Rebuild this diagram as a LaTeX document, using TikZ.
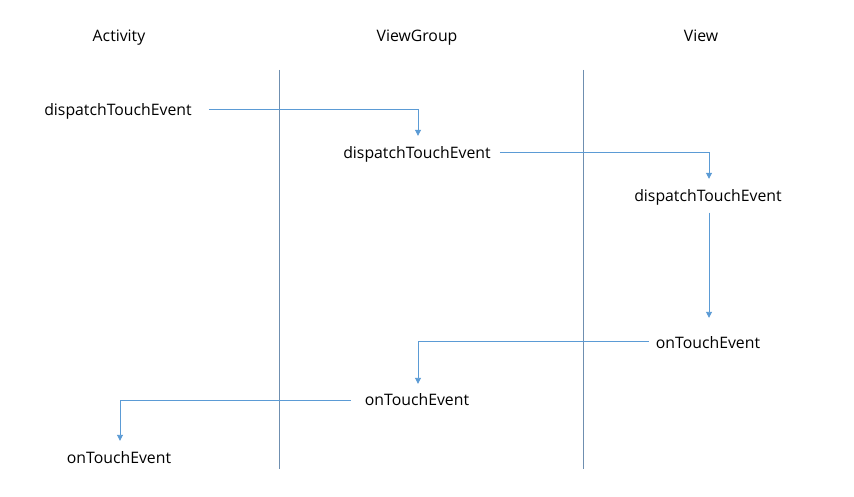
\documentclass[tikz,border=0pt]{standalone}
\usepackage{fontspec}
\setmainfont{Open Sans}
\usetikzlibrary{arrows.meta}
\definecolor{conncol}{HTML}{5B9BD5}
\definecolor{lanecol}{HTML}{6F8FB0}
\tikzset{
  lbl/.style={inner sep=0pt, text height=11pt, text depth=3pt, font=\fontsize{15.8}{18}\selectfont},
  conn/.style={draw=conncol, line width=0.9pt, -{Triangle[width=6pt,length=6pt]}},
  lane/.style={draw=lanecol, line width=0.9pt}
}
\begin{document}
\begin{tikzpicture}[x=1pt,y=-1pt]
\fill[white] (0,0) rectangle (854,497);
\useasboundingbox (0,0) rectangle (854,497);
% column headers
\node[lbl] (hA) at (119,38) {Activity};
\node[lbl] (hG) at (417,38) {ViewGroup};
\node[lbl] (hV) at (701,38) {View};
% lane separators
\coordinate (l1t) at (279,70); \coordinate (l1b) at (279,469);
\coordinate (l2t) at (583,70); \coordinate (l2b) at (583,469);
\draw[lane] (l1t) -- (l1b);
\draw[lane] (l2t) -- (l2b);
% labels
\node[lbl] (d1) at (118,112) {dispatchTouchEvent};
\node[lbl] (d2) at (417,155) {dispatchTouchEvent};
\node[lbl] (d3) at (708,198) {dispatchTouchEvent};
\node[lbl] (o3) at (708,344) {onTouchEvent};
\node[lbl] (o2) at (417,401) {onTouchEvent};
\node[lbl] (o1) at (119,459) {onTouchEvent};
% connectors
\draw[conn, shorten <=17pt, shorten >=12pt] ([yshift=3pt]d1.east) -| ([xshift=1pt]d2.north);
\draw[conn, shorten <=9pt, shorten >=12pt] ([yshift=3pt]d2.east) -| ([xshift=1pt]d3.north);
\draw[conn, shorten <=7.5pt, shorten >=19pt] ([xshift=1pt]d3.south) -- ([xshift=1pt]o3.north);
\draw[conn, shorten <=7pt, shorten >=10pt] ([yshift=3pt]o3.west) -| ([xshift=1pt]o2.north);
\draw[conn, shorten <=14pt, shorten >=11pt] ([yshift=1pt]o2.west) -| ([xshift=1pt]o1.north);
\end{tikzpicture}
\end{document}
